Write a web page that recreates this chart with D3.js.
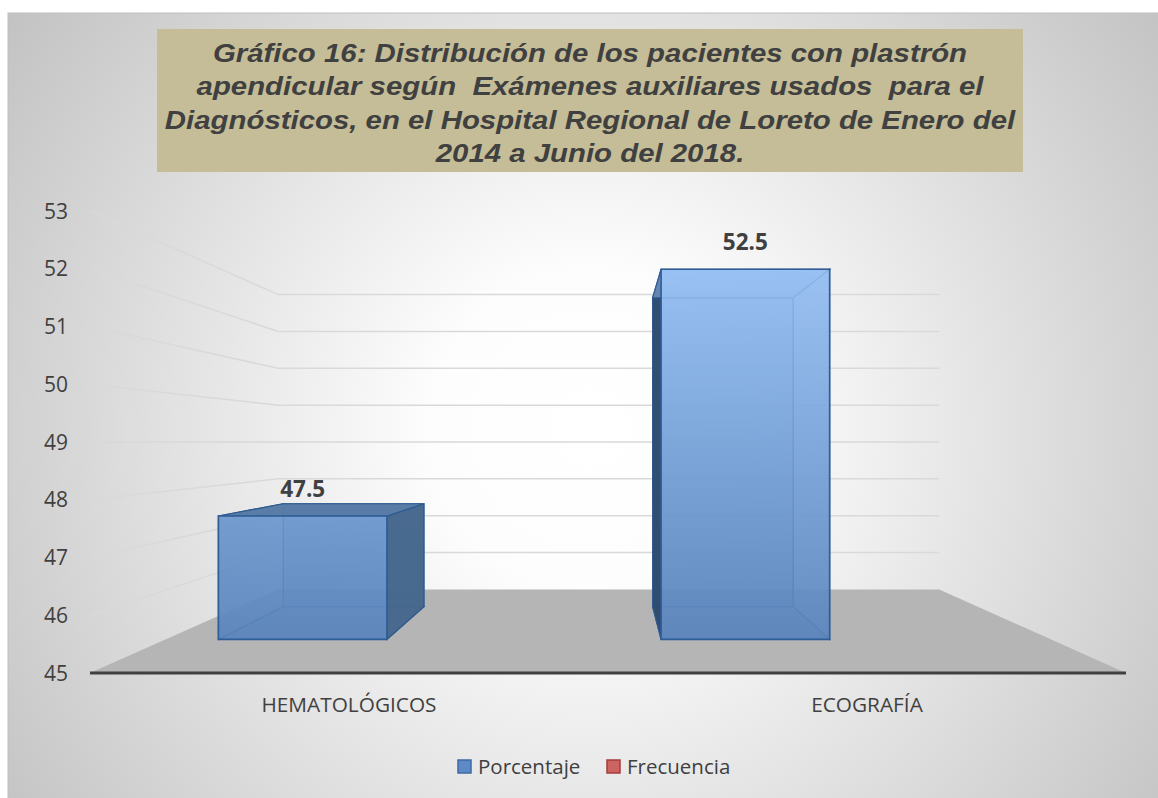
<!DOCTYPE html>
<html>
<head>
<meta charset="utf-8">
<script src="https://cdn.jsdelivr.net/npm/d3@7"></script>
<style>
  html, body { margin: 0; padding: 0; background: #ffffff; }
  svg { display: block; }
</style>
</head>
<body>
<script>
// ---------------- DATA ----------------
const categories = ["HEMATOLÓGICOS", "ECOGRAFÍA"];
const seriesNames = ["Porcentaje", "Frecuencia"];
const porcentaje = [47.5, 52.5];
const yTicks = [45, 46, 47, 48, 49, 50, 51, 52, 53];
const titleLines = [
  "Gráfico 16: Distribución de los pacientes con plastrón",
  "apendicular según  Exámenes auxiliares usados  para el",
  "Diagnósticos, en el Hospital Regional de Loreto de Enero del",
  "2014 a Junio del 2018."
];
const seriesColors = ["#5b8ac6", "#cd6461"];
const seriesStrokes = ["#3d6aa3", "#a33e3b"];

// ---------------- SETUP ----------------
const W = 1158, H = 798;
const svg = d3.select("body").append("svg").attr("width", W).attr("height", H);
const defs = svg.append("defs");

const bg = defs.append("radialGradient").attr("id", "bg")
  .attr("gradientUnits", "userSpaceOnUse")
  .attr("cx", 590).attr("cy", 430).attr("r", 720);
bg.append("stop").attr("offset", 0).attr("stop-color", "#ffffff");
bg.append("stop").attr("offset", 0.22).attr("stop-color", "#fdfdfd");
bg.append("stop").attr("offset", 1).attr("stop-color", "#c2c2c2");

const barGrad = defs.append("linearGradient").attr("id", "barGrad")
  .attr("gradientUnits", "userSpaceOnUse")
  .attr("x1", 0).attr("y1", 255).attr("x2", 0).attr("y2", 645);
barGrad.append("stop").attr("offset", 0).attr("stop-color", "#96c0f4");
barGrad.append("stop").attr("offset", 1).attr("stop-color", "#5883bb");

// chart area
svg.append("rect").attr("x", 8).attr("y", 13).attr("width", W).attr("height", H)
  .attr("fill", "url(#bg)").attr("stroke", "#c0c0c0").attr("stroke-width", 1);

// ---------------- 3D PROJECTION ----------------
const frontX0 = 90, frontX1 = 1126;
const y = d3.scaleLinear().domain([45, 53]).range([673, 211]);
const VP = [610, y(49)];
const floorDepth = 0.567;               // depth of the plot box (perspective units)
const depth = d3.scaleLinear().domain([0, 1]).range([0, floorDepth]);
function project(px, py, z) {
  const s = 1 / (1 + z);
  return [VP[0] + (px - VP[0]) * s, VP[1] + (py - VP[1]) * s];
}
const x = d3.scaleBand().domain(categories).range([frontX0, frontX1])
  .paddingInner(0.2386).paddingOuter(0.1193);
const xs = d3.scaleBand().domain(seriesNames).range([0, x.bandwidth()]);

// ---------------- GRIDLINES (side + back wall) ----------------
const grid = svg.append("g");
yTicks.filter(t => t > 45).forEach(t => {
  const a = project(frontX0, y(t), 0);
  const b = project(frontX0, y(t), depth(1));
  const c = project(frontX1, y(t), depth(1));
  grid.append("polyline")
    .attr("points", [a, b, c].map(p => p.join(",")).join(" "))
    .attr("fill", "none").attr("stroke", "#d9d9d9").attr("stroke-width", 1.5);
});

// ---------------- FLOOR ----------------
const floorPts = [
  project(frontX0, y(45), 0), project(frontX1, y(45), 0),
  project(frontX1, y(45), depth(1)), project(frontX0, y(45), depth(1))
];
svg.append("polygon").attr("points", floorPts.map(p => p.join(",")).join(" "))
  .attr("fill", "#b5b5b5");
// axis line
svg.append("line")
  .attr("x1", project(frontX0, y(45), 0)[0]).attr("x2", project(frontX1, y(45), 0)[0])
  .attr("y1", y(45)).attr("y2", y(45))
  .attr("stroke", "#404040").attr("stroke-width", 3);

// ---------------- Y AXIS LABELS ----------------
svg.append("g").selectAll("text").data(yTicks).join("text")
  .attr("x", 68).attr("y", d => y(d)).attr("dy", "0.36em")
  .attr("text-anchor", "end")
  .attr("font-family", "'Open Sans', sans-serif").attr("font-size", 21)
  .attr("fill", "#404040").text(d => d);

// ---------------- BARS ----------------
const bars = svg.append("g");
const z0 = depth(0.3), z1 = depth(0.71);
const poly = pts => pts.map(p => p.join(",")).join(" ");
categories.forEach((cat, i) => {
  const v = porcentaje[i];
  const bx0 = x(cat) + xs("Porcentaje");
  const bx1 = bx0 + xs.bandwidth();
  const yt = y(v), yb = y(45);
  const F = [project(bx0, yt, z0), project(bx1, yt, z0), project(bx1, yb, z0), project(bx0, yb, z0)];
  const B = [project(bx0, yt, z1), project(bx1, yt, z1), project(bx1, yb, z1), project(bx0, yb, z1)];
  const g = bars.append("g");
  const edge = "#3a69a5";
  // back face
  g.append("polygon").attr("points", poly(B)).attr("fill", "url(#barGrad)")
    .attr("fill-opacity", 0.55).attr("stroke", edge).attr("stroke-width", 1.2);
  // bottom face
  g.append("polygon").attr("points", poly([F[3], F[2], B[2], B[3]]))
    .attr("fill", "#4c78b0").attr("fill-opacity", 0.35).attr("stroke", edge).attr("stroke-width", 1.2);
  const leftOfVP = bx1 < VP[0];
  // left face
  g.append("polygon").attr("points", poly([F[0], B[0], B[3], F[3]]))
    .attr("fill", leftOfVP ? "#6a96cc" : "#2c4a6b").attr("fill-opacity", leftOfVP ? 0.3 : 0.97)
    .attr("stroke", "#2f5a8f").attr("stroke-width", 1.2);
  // right face
  g.append("polygon").attr("points", poly([F[1], B[1], B[2], F[2]]))
    .attr("fill", leftOfVP ? "#46678c" : "#8fb8ec").attr("fill-opacity", leftOfVP ? 0.97 : 0.3)
    .attr("stroke", "#2f5a8f").attr("stroke-width", 1.2);
  // top face
  const topVisible = yt > VP[1];
  g.append("polygon").attr("points", poly([F[0], F[1], B[1], B[0]]))
    .attr("fill", topVisible ? "#567aa5" : "#93bdf1").attr("fill-opacity", topVisible ? 0.97 : 0.5)
    .attr("stroke", "#2f5a8f").attr("stroke-width", 1.2);
  // front face
  g.append("polygon").attr("points", poly(F)).attr("fill", "url(#barGrad)")
    .attr("fill-opacity", 0.9).attr("stroke", "#2f5d96").attr("stroke-width", 1.6);
  // data label
  const tc = project((bx0 + bx1) / 2, yt, z0);
  svg.append("text").attr("x", tc[0]).attr("y", tc[1] - 19)
    .attr("text-anchor", "middle")
    .attr("font-family", "'Open Sans', sans-serif").attr("font-weight", 700)
    .attr("font-size", 22.5).attr("fill", "#404040").text(v);
});

// ---------------- CATEGORY LABELS ----------------
svg.append("g").selectAll("text").data(categories).join("text")
  .attr("x", d => x(d) + x.bandwidth() / 2).attr("y", 705).attr("dy", "0.35em")
  .attr("text-anchor", "middle")
  .attr("font-family", "'Open Sans', sans-serif").attr("font-size", 20.8)
  .attr("fill", "#404040").text(d => d);

// ---------------- TITLE ----------------
svg.append("rect").attr("x", 157).attr("y", 29).attr("width", 866).attr("height", 143)
  .attr("fill", "#c4bd97");
svg.append("g").attr("transform", "translate(590,0) scale(1.13,1)")
  .selectAll("text").data(titleLines).join("text")
  .attr("x", 0).attr("y", (d, i) => 62 + i * 33.4)
  .attr("text-anchor", "middle")
  .attr("font-family", "'Liberation Sans', Arial, sans-serif")
  .attr("font-weight", 700).attr("font-style", "italic")
  .attr("font-size", 26).attr("fill", "#404040")
  .attr("xml:space", "preserve").style("white-space", "pre")
  .text(d => d);

// ---------------- LEGEND ----------------
const legendX = [458, 607];
const lg = svg.append("g");
seriesNames.forEach((s, i) => {
  lg.append("rect").attr("x", legendX[i]).attr("y", 760).attr("width", 13).attr("height", 13)
    .attr("fill", seriesColors[i]).attr("stroke", seriesStrokes[i]).attr("stroke-width", 1.5);
  lg.append("text").attr("x", legendX[i] + 20).attr("y", 766.5).attr("dy", "0.35em")
    .attr("font-family", "'Open Sans', sans-serif").attr("font-size", 20.5)
    .attr("fill", "#404040").text(s);
});
</script>
</body>
</html>
